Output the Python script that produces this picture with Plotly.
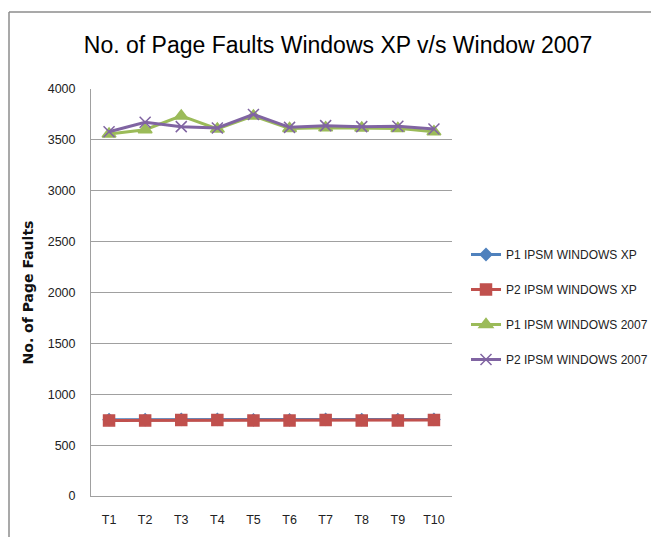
import plotly.graph_objects as go

categories = ["T1", "T2", "T3", "T4", "T5", "T6", "T7", "T8", "T9", "T10"]
p1_xp = [750, 750, 753, 753, 748, 748, 753, 750, 750, 753]
p2_xp = [743, 743, 748, 748, 742, 742, 748, 742, 742, 748]
p1_2007 = [3557, 3600, 3735, 3607, 3735, 3613, 3620, 3617, 3613, 3580]
p2_2007 = [3580, 3673, 3630, 3617, 3750, 3623, 3640, 3630, 3633, 3607]
y_ticks = [0, 500, 1000, 1500, 2000, 2500, 3000, 3500, 4000]

W, H = 659, 537
OFF = 8  # page body margin offset
L, R, T, B = 91, 452, 89, 496  # intended absolute pixel positions of plot area
FONT = "Liberation Sans, Arial, sans-serif"

def px(x):
    return (x - L) / (R - L)

def py(y):
    return (B - y) / (B - T)

series = [
    ("P1 IPSM WINDOWS XP", p1_xp, "#4F81BD", "diamond", 9),
    ("P2 IPSM WINDOWS XP", p2_xp, "#C0504D", "square", 11),
    ("P1 IPSM WINDOWS 2007", p1_2007, "#9BBB59", "triangle-up", 12),
    ("P2 IPSM WINDOWS 2007", p2_2007, "#8064A2", "x-thin-open", 11),
]

fig = go.Figure()
for i, (name, vals, color, sym, size) in enumerate(series):
    fig.add_trace(go.Scatter(
        x=categories, y=vals, name=name, mode="lines+markers",
        line=dict(color=color, width=3),
        marker=dict(symbol=sym, size=size, color=color,
                    line=dict(color=color, width=1.5)),
        legendgroup=f"g{i}",
    ))

border = dict(color="#8C8C8C", width=1.5)
shapes = [
    dict(type="line", xref="paper", yref="paper", x0=px(9), x1=px(655), y0=py(12), y1=py(12), line=border),
    dict(type="line", xref="paper", yref="paper", x0=px(9), x1=px(9), y0=py(12), y1=py(545), line=border),
    dict(type="line", xref="paper", yref="paper", x0=px(655), x1=px(655), y0=py(12), y1=py(545), line=border),
]

fig.update_layout(
    width=W, height=H,
    margin=dict(l=L - OFF, r=W - (R - OFF), t=T - OFF, b=H - (B - OFF), autoexpand=False),
    paper_bgcolor="white", plot_bgcolor="white",
    font=dict(family=FONT, color="#222222", size=12),
    title=dict(text="No. of Page Faults Windows XP v/s Window 2007",
               x=(338 - OFF) / W, xanchor="center", y=1 - (45 - OFF) / H, yanchor="middle",
               font=dict(size=23, color="#000000", family=FONT)),
    xaxis=dict(showgrid=False, showline=True, linecolor="#A0A0A0", linewidth=1,
               ticks="", tickfont=dict(size=12.5), range=[-0.5, 9.5], ticklabelstandoff=12),
    yaxis=dict(range=[0, 4000], tickvals=y_ticks, showgrid=True, gridcolor="#A0A0A0",
               gridwidth=1, showline=True, linecolor="#A0A0A0", zeroline=False,
               ticks="", tickfont=dict(size=12.5), ticklabelstandoff=12,
               title=dict(text="<b>No. of Page Faults</b>",
                          font=dict(size=14, family="DejaVu Sans, sans-serif", color="#111111"),
                          standoff=10)),
    legend=dict(x=px(466), y=py(240), xanchor="left", yanchor="top",
                font=dict(size=12), tracegroupgap=16, itemwidth=30,
                bgcolor="rgba(0,0,0,0)"),
    shapes=shapes,
)

fig.write_html("out.html")
